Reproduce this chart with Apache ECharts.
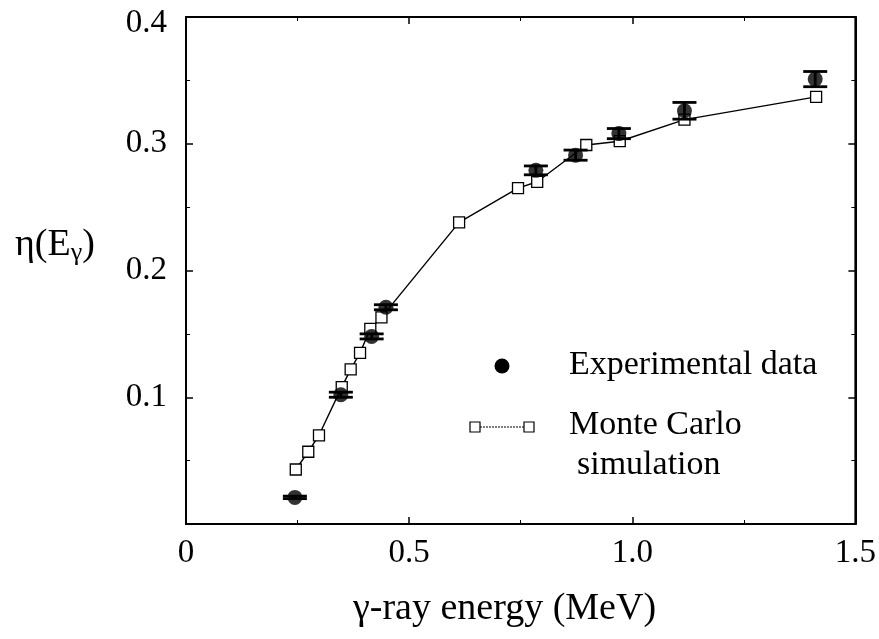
<!DOCTYPE html>
<html>
<head>
<meta charset="utf-8">
<script src="https://cdn.jsdelivr.net/npm/echarts@6/dist/echarts.min.js"></script>
<style>html,body{margin:0;padding:0;background:#fff}#c{width:879px;height:639px}</style>
</head>
<body>
<div id="c"></div>
<script>
// Experimental data
const expX = [0.244, 0.347, 0.416, 0.448, 0.784, 0.873, 0.970, 1.117, 1.410];
const expY = [0.021, 0.102, 0.148, 0.171, 0.279, 0.291, 0.308, 0.326, 0.351];
const expErr = [0.001, 0.002, 0.002, 0.002, 0.0035, 0.004, 0.004, 0.0066, 0.006];
// Monte Carlo simulation
const mcX = [0.246, 0.274, 0.298, 0.349, 0.369, 0.390, 0.413, 0.438, 0.612, 0.744, 0.787, 0.897, 0.972, 1.117, 1.412];
const mcY = [0.043, 0.057, 0.070, 0.108, 0.122, 0.135, 0.154, 0.163, 0.238, 0.265, 0.270, 0.299, 0.302, 0.319, 0.337];
// Tick labels
const xTickLabels = {0: '0', 0.5: '0.5', 1: '1.0', 1.5: '1.5'};
const yTickLabels = {0: '', 0.1: '0.1', 0.2: '0.2', 0.3: '0.3', 0.4: '{t|0.4}'};

const FONT = '"Liberation Serif", "Times New Roman", serif';
const chart = echarts.init(document.getElementById('c'), null, {renderer: 'canvas'});

const expData = expX.map((x, i) => [x, expY[i], expErr[i]]);
const mcData = mcX.map((x, i) => [x, mcY[i]]);

function axisBase() {
  return {
    type: 'value',
    gridIndex: 0,
    show: true,
    axisLine: {show: true, onZero: false, lineStyle: {color: '#000', width: 2}},
    axisTick: {show: true, inside: true, length: 7, lineStyle: {color: '#000', width: 1.5}},
    minorTick: {show: true, splitNumber: 2, length: 4, lineStyle: {color: '#000', width: 1}},
    splitLine: {show: false},
    minorSplitLine: {show: false}
  };
}

const xBottom = Object.assign(axisBase(), {
  min: 0, max: 1.5, interval: 0.5, position: 'bottom',
  axisLabel: {color: '#000', fontFamily: FONT, fontSize: 33, margin: 13,
    formatter: v => xTickLabels[v] !== undefined ? xTickLabels[v] : ''}
});
const xTop = Object.assign(axisBase(), {
  min: 0, max: 1.5, interval: 0.5, position: 'top', axisLabel: {show: false}
});
const yLeft = Object.assign(axisBase(), {
  min: 0, max: 0.4, interval: 0.1, position: 'left',
  axisLabel: {color: '#000', fontFamily: FONT, fontSize: 33, margin: 19,
    rich: {t: {fontFamily: FONT, fontSize: 33, color: '#000', padding: [12, 0, 0, 0]}},
    formatter: v => yTickLabels[v] !== undefined ? yTickLabels[v] : ''}
});
const yRight = Object.assign(axisBase(), {
  min: 0, max: 0.4, interval: 0.1, position: 'right', axisLabel: {show: false}
});

chart.setOption({
  animation: false,
  backgroundColor: '#fff',
  grid: {left: 186, top: 17, right: 23, bottom: 115, containLabel: false,
         show: true, borderColor: '#000', borderWidth: 2, backgroundColor: 'transparent'},
  xAxis: [xBottom, xTop],
  yAxis: [yLeft, yRight],
  series: [
    {
      name: 'Monte Carlo simulation',
      type: 'line',
      xAxisIndex: 0, yAxisIndex: 0,
      data: mcData,
      symbol: 'rect',
      symbolSize: 11,
      showAllSymbol: true,
      lineStyle: {color: '#000', width: 1.4},
      itemStyle: {color: '#fff', borderColor: '#000', borderWidth: 1.3},
      z: 3
    },
    {
      name: 'Experimental error',
      type: 'custom',
      xAxisIndex: 1, yAxisIndex: 1,
      data: expData,
      renderItem: function (params, api) {
        const x = api.value(0), y = api.value(1), e = api.value(2);
        const top = api.coord([x, y + e]);
        const bot = api.coord([x, y - e]);
        const hw = 12;
        const st = {stroke: '#000', lineWidth: 2.8};
        return {
          type: 'group',
          children: [
            {type: 'line', shape: {x1: top[0], y1: top[1], x2: bot[0], y2: bot[1]}, style: st},
            {type: 'line', shape: {x1: top[0] - hw, y1: top[1], x2: top[0] + hw, y2: top[1]}, style: st},
            {type: 'line', shape: {x1: bot[0] - hw, y1: bot[1], x2: bot[0] + hw, y2: bot[1]}, style: st}
          ]
        };
      },
      z: 4
    },
    {
      name: 'Experimental data',
      type: 'scatter',
      xAxisIndex: 0, yAxisIndex: 0,
      data: expData,
      symbol: 'circle',
      symbolSize: 15,
      itemStyle: {color: '#000'},
      z: 5
    }
  ],
  graphic: [
    // Legend
    {type: 'circle', shape: {cx: 502, cy: 366, r: 7.5}, style: {fill: '#000'}},
    {type: 'text', x: 569, y: 365, style: {text: 'Experimental data', fill: '#000', font: '34px ' + FONT, verticalAlign: 'middle', textVerticalAlign: 'middle'}},
    {type: 'line', shape: {x1: 480, y1: 427, x2: 524, y2: 427}, style: {stroke: '#000', lineWidth: 1, lineDash: [2, 1]}},
    {type: 'rect', shape: {x: 470, y: 422, width: 10, height: 10}, style: {fill: '#fff', stroke: '#000', lineWidth: 1.2}},
    {type: 'rect', shape: {x: 524, y: 422, width: 10, height: 10}, style: {fill: '#fff', stroke: '#000', lineWidth: 1.2}},
    {type: 'text', x: 569, y: 425, style: {text: 'Monte Carlo', fill: '#000', font: '34px ' + FONT, verticalAlign: 'middle', textVerticalAlign: 'middle'}},
    {type: 'text', x: 577, y: 465, style: {text: 'simulation', fill: '#000', font: '34px ' + FONT, verticalAlign: 'middle', textVerticalAlign: 'middle'}},
    // Axis titles
    {type: 'text', x: 15, y: 245, style: {
      text: '{m|η(E}{s|γ}{m|)}',
      verticalAlign: 'middle', textVerticalAlign: 'middle',
      rich: {
        m: {fontFamily: FONT, fontSize: 38, fill: '#000', color: '#000'},
        s: {fontFamily: FONT, fontSize: 26, fill: '#000', color: '#000', padding: [16, 0, 0, 0]}
      }
    }},
    {type: 'text', x: 353, y: 609, style: {text: 'γ-ray energy (MeV)', fill: '#000', font: '38px ' + FONT, verticalAlign: 'middle', textVerticalAlign: 'middle'}}
  ]
});
</script>
</body>
</html>
